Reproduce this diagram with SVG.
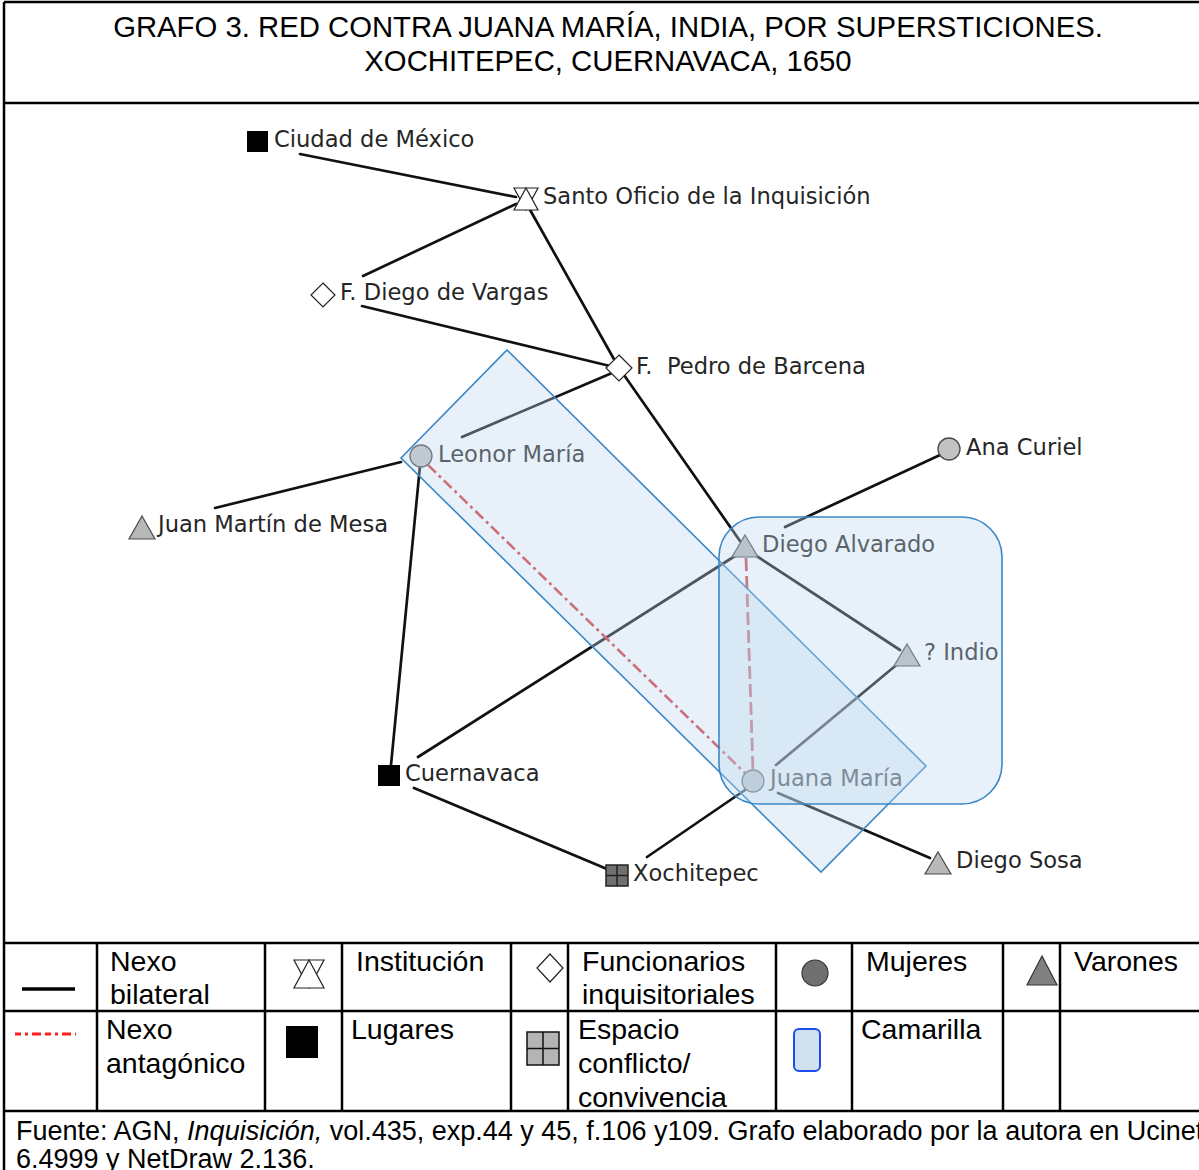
<svg xmlns="http://www.w3.org/2000/svg" width="1199" height="1170" viewBox="0 0 1199 1170">
<style>
.frame{stroke:#000;stroke-width:2.5;fill:none}
.ttl{font-family:"Liberation Sans",Arial,sans-serif;font-size:29.3px;fill:#000}
.lg{font-family:"Liberation Sans",Arial,sans-serif;font-size:28.5px;fill:#000}
.ft{font-family:"Liberation Sans",Arial,sans-serif;font-size:27px;fill:#000}
.lbl{font-family:"DejaVu Sans",Verdana,sans-serif;font-size:22.6px;fill:#262626}
.edge{stroke:#111;stroke-width:2.7;fill:none;stroke-linecap:round}
.anta{stroke:#d33a3c;stroke-width:2.6;fill:none;stroke-dasharray:11,4,3,4}
.antv{stroke:#c84a50;stroke-width:2.8;fill:none;stroke-dasharray:13,5}
.hull{fill:rgb(190,215,238);fill-opacity:0.35;stroke:#3b87c6;stroke-width:1.6}
.sq{fill:#000}
.dia{fill:#fff;stroke:#222;stroke-width:1.2}
.circ{fill:#c0c2c4;stroke:#4a4a4a;stroke-width:1.3}
.tri{fill:#b6b8ba;stroke:#4a4a4a;stroke-width:1.2}
.hg{fill:#fff;stroke:#222;stroke-width:1.2}
</style>
<rect x="0" y="0" width="1199" height="1170" fill="#fff"/>

<!-- frame / table -->
<g id="frame">
<line class="frame" x1="4" y1="2" x2="1199" y2="2"/>
<line class="frame" x1="4" y1="2" x2="4" y2="1170"/>
<line class="frame" x1="4" y1="103" x2="1199" y2="103"/>
<line class="frame" x1="4" y1="943" x2="1199" y2="943"/>
<line class="frame" x1="4" y1="1011" x2="1199" y2="1011"/>
<line class="frame" x1="4" y1="1111" x2="1199" y2="1111"/>
<line class="frame" x1="97" y1="943" x2="97" y2="1111"/>
<line class="frame" x1="265" y1="943" x2="265" y2="1111"/>
<line class="frame" x1="342" y1="943" x2="342" y2="1111"/>
<line class="frame" x1="511" y1="943" x2="511" y2="1111"/>
<line class="frame" x1="568" y1="943" x2="568" y2="1111"/>
<line class="frame" x1="776" y1="943" x2="776" y2="1111"/>
<line class="frame" x1="852" y1="943" x2="852" y2="1111"/>
<line class="frame" x1="1003" y1="943" x2="1003" y2="1111"/>
<line class="frame" x1="1060" y1="943" x2="1060" y2="1111"/>
</g>

<g id="title">
<text class="ttl" x="608" y="37" text-anchor="middle">GRAFO 3. RED CONTRA JUANA MARÍA, INDIA, POR SUPERSTICIONES.</text>
<text class="ttl" x="608" y="71" text-anchor="middle">XOCHITEPEC, CUERNAVACA, 1650</text>
</g>

<!-- connectors -->
<g id="connectors">
<line class="edge" x1="300" y1="154" x2="516" y2="197"/>
<line class="edge" x1="363" y1="276" x2="516" y2="204"/>
<line class="edge" x1="529" y1="208" x2="615" y2="361"/>
<line class="edge" x1="362" y1="306" x2="610" y2="366"/>
<line class="edge" x1="612" y1="373" x2="462" y2="437"/>
<line class="edge" x1="624" y1="375" x2="740" y2="541"/>
<line class="edge" x1="940" y1="455" x2="785" y2="527"/>
<line class="edge" x1="401" y1="462" x2="215" y2="508"/>
<line class="edge" x1="420" y1="466" x2="391" y2="765"/>
<line class="edge" x1="418" y1="757" x2="735" y2="556"/>
<line class="edge" x1="414" y1="788" x2="607" y2="869"/>
<line class="edge" x1="647" y1="857" x2="745" y2="790"/>
<line class="edge" x1="755" y1="555" x2="900" y2="650"/>
<line class="edge" x1="900" y1="662" x2="776" y2="765"/>
<line class="edge" x1="778" y1="793" x2="930" y2="858"/>
<line class="anta" x1="428" y1="465" x2="745" y2="773"/>
<line class="antv" x1="746" y1="558" x2="753" y2="771"/>
</g>

<!-- nodes -->
<g id="n-ciudad">
<rect class="sq" x="247" y="131" width="21" height="21"/>
<text class="lbl" x="274" y="147">Ciudad de México</text>
</g>
<g id="n-santo-oficio">
<polygon class="hg" points="514,188 538,188 526,210"/>
<polygon class="hg" points="514,210 538,210 526,188"/>
<text class="lbl" x="543" y="204">Santo Oficio de la Inquisición</text>
</g>
<g id="n-diego-vargas">
<polygon class="dia" points="323,283 335,295 323,307 311,295"/>
<text class="lbl" x="340" y="300">F. Diego de Vargas</text>
</g>
<g id="n-pedro-barcena">
<polygon class="dia" points="619,355 632,368 619,381 606,368"/>
<text class="lbl" x="636" y="374" xml:space="preserve">F.  Pedro de Barcena</text>
</g>
<g id="n-leonor">
<circle class="circ" cx="421" cy="456" r="11"/>
<text class="lbl" x="438" y="462">Leonor María</text>
</g>
<g id="n-ana">
<circle class="circ" cx="949" cy="449" r="11"/>
<text class="lbl" x="966" y="455">Ana Curiel</text>
</g>
<g id="n-juan-martin">
<polygon class="tri" points="142,516 155,539 129,539"/>
<text class="lbl" x="158" y="532">Juan Martín de Mesa</text>
</g>
<g id="n-diego-alvarado">
<polygon class="tri" points="745,535 758,557 732,557"/>
<text class="lbl" x="762" y="552">Diego Alvarado</text>
</g>
<g id="n-indio">
<polygon class="tri" points="907,644 920,666 894,666"/>
<text class="lbl" x="924" y="660">? Indio</text>
</g>
<g id="n-cuernavaca">
<rect class="sq" x="378" y="765" width="22" height="21"/>
<text class="lbl" x="405" y="781">Cuernavaca</text>
</g>
<g id="n-juana">
<circle class="circ" cx="753" cy="781" r="11"/>
<text class="lbl" x="770" y="786">Juana María</text>
</g>
<g id="n-diego-sosa">
<polygon class="tri" points="938,852 951,874 925,874"/>
<text class="lbl" x="956" y="868">Diego Sosa</text>
</g>
<g id="n-xochitepec">
<rect x="606" y="865" width="22" height="21" fill="#707070" stroke="#222" stroke-width="1.5"/>
<line x1="617" y1="865" x2="617" y2="886" stroke="#222" stroke-width="1.5"/>
<line x1="606" y1="875.5" x2="628" y2="875.5" stroke="#222" stroke-width="1.5"/>
<text class="lbl" x="633" y="881">Xochitepec</text>
</g>

<!-- hulls (camarillas) -->
<g id="camarillas">
<polygon class="hull" points="507,350 926,766 821,872 401,458"/>
<rect class="hull" x="719" y="517" width="283" height="287" rx="40" ry="40"/>
</g>

<!-- legend -->
<g id="legend">
<line x1="22" y1="989" x2="75" y2="989" stroke="#000" stroke-width="3.5"/>
<text class="lg" x="110" y="971">Nexo</text>
<text class="lg" x="110" y="1004">bilateral</text>
<polygon class="hg" points="294,960 324,960 309,988"/>
<polygon class="hg" points="294,988 324,988 309,960"/>
<text class="lg" x="356" y="971">Institución</text>
<polygon class="dia" points="550,954 563,968 550,982 537,968"/>
<text class="lg" x="582" y="971">Funcionarios</text>
<text class="lg" x="582" y="1004">inquisitoriales</text>
<circle cx="815" cy="973" r="13" fill="#707070" stroke="#333" stroke-width="1.2"/>
<text class="lg" x="866" y="971">Mujeres</text>
<polygon points="1042,956 1057,985 1027,985" fill="#808080" stroke="#333" stroke-width="1.2"/>
<text class="lg" x="1074" y="971">Varones</text>

<line x1="15" y1="1034" x2="76" y2="1034" stroke="#ff2020" stroke-width="3" stroke-dasharray="6,4,3,4,9,4"/>
<text class="lg" x="106" y="1039">Nexo</text>
<text class="lg" x="106" y="1073">antagónico</text>
<rect x="286" y="1026" width="32" height="32" fill="#000"/>
<text class="lg" x="351" y="1039">Lugares</text>
<rect x="527" y="1032" width="32" height="33" fill="#b4b4b4" stroke="#111" stroke-width="1.5"/>
<line x1="543" y1="1032" x2="543" y2="1065" stroke="#111" stroke-width="1.5"/>
<line x1="527" y1="1048.5" x2="559" y2="1048.5" stroke="#111" stroke-width="1.5"/>
<text class="lg" x="578" y="1039">Espacio</text>
<text class="lg" x="578" y="1073">conflicto/</text>
<text class="lg" x="578" y="1107">convivencia</text>
<rect x="794" y="1029" width="26" height="42" rx="5" ry="5" fill="#cfe0ef" stroke="#1c4cf0" stroke-width="2"/>
<text class="lg" x="861" y="1039">Camarilla</text>
</g>

<g id="footer">
<text class="ft" x="16" y="1140">Fuente: AGN, <tspan font-style="italic">Inquisición,</tspan> vol.435, exp.44 y 45, f.106 y109. Grafo elaborado por la autora en Ucinet</text>
<text class="ft" x="16" y="1168">6.4999 y NetDraw 2.136.</text>
</g>
</svg>
